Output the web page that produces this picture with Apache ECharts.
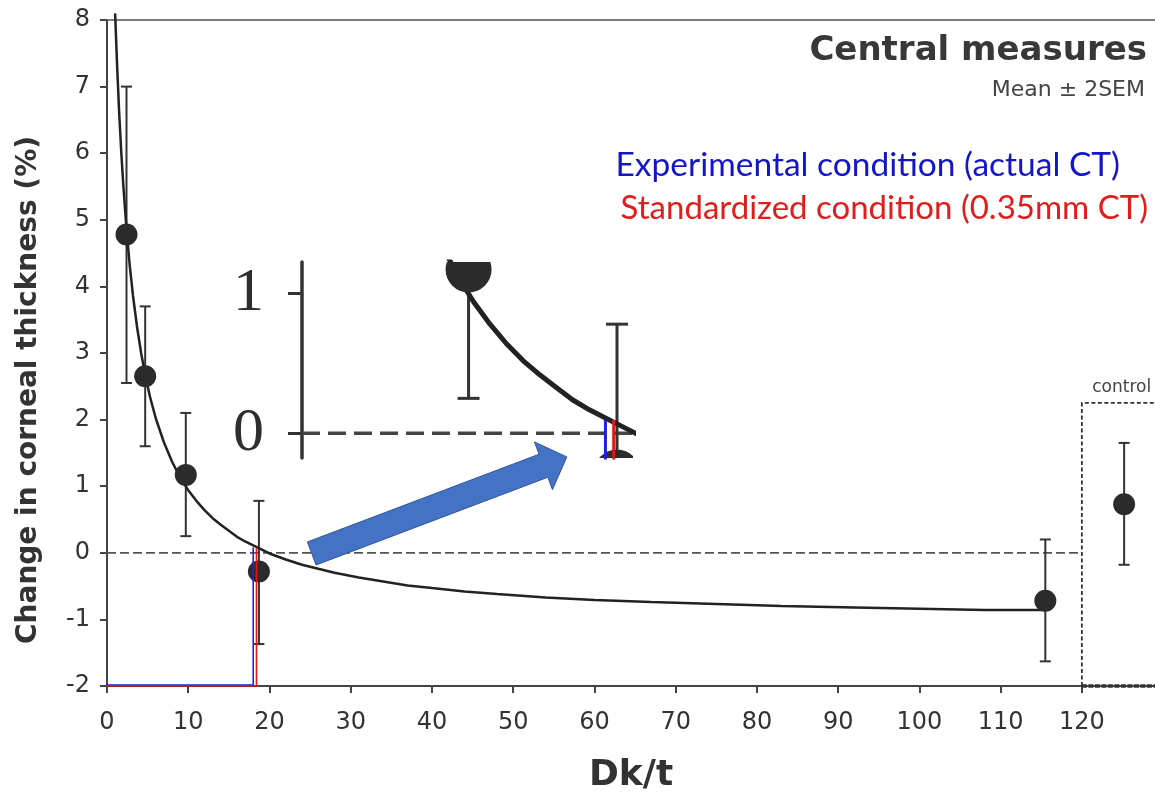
<!DOCTYPE html>
<html><head><meta charset="utf-8">
<script src="https://cdn.jsdelivr.net/npm/echarts@6/dist/echarts.min.js"></script>
<style>html,body{margin:0;padding:0;background:#fff}#chart{width:1155px;height:793px}</style>
</head><body><div id="chart"></div>
<script>
// ---------- data ----------
const xTickValues = [0, 10, 20, 30, 40, 50, 60, 70, 80, 90, 100, 110, 120];
const dkt        = [2.4, 4.7, 9.7, 18.7, 115.5];
const meanChange = [4.78, 2.65, 1.17, -0.28, -0.72];
const upper2SEM  = [7.0, 3.7, 2.1, 0.78, 0.2];
const lower2SEM  = [2.55, 1.6, 0.25, -1.37, -1.63];
const controlDkt   = [125.2];
const controlMean  = [0.73];
const controlUpper = [1.65];
const controlLower = [-0.18];
const fitDkt    = [1.0, 1.25, 1.5, 1.75, 2.0, 2.4, 2.8, 3.2, 3.7, 4.2, 4.7, 5.3, 6.0, 7.0, 8.0, 9.0, 10, 11, 12, 13, 14, 15, 16, 17, 18, 19, 20, 22, 24, 26, 28, 31, 34, 37, 40, 44, 48, 54, 60, 67, 75, 83, 92, 100, 108, 115.5];
const fitChange = [8.1, 7.3, 6.6, 6.03, 5.53, 4.86, 4.31, 3.86, 3.39, 3.0, 2.67, 2.34, 2.02, 1.66, 1.37, 1.13, 0.94, 0.78, 0.64, 0.52, 0.42, 0.33, 0.24, 0.17, 0.11, 0.05, -0.01, -0.1, -0.18, -0.24, -0.3, -0.37, -0.43, -0.49, -0.53, -0.58, -0.62, -0.67, -0.71, -0.74, -0.77, -0.8, -0.82, -0.84, -0.86, -0.86];
const actualCTDkt   = 18.0;   // blue, experimental condition
const standardCTDkt = 18.4;   // red, standardized condition
const conditionTop  = 0.08;
const controlBox = [120, 2.25, 129, -2];
const controlLabelX = 124.9;
const arrowLine = [25.2, -0.01, 56.6, 1.44];
const mainX = [0, 129], mainY = [-2, 8];
const insetX = [-0.4, 19.67], insetY = [-0.176, 1.224];
const insetYTicks = [0, 1];
const insetConditionTop = 0.095;

// ---------- helpers ----------
const ink = '#2b2b2b';
function errorBarRenderer(capHalf, width, color) {
  return function (params, api) {
    const x = api.value(0);
    const lo = api.coord([x, api.value(1)]);
    const hi = api.coord([x, api.value(2)]);
    const st = { stroke: color, lineWidth: width };
    return { type: 'group', children: [
      { type: 'line', shape: { x1: lo[0], y1: lo[1], x2: hi[0], y2: hi[1] }, style: st },
      { type: 'line', shape: { x1: lo[0] - capHalf, y1: lo[1], x2: lo[0] + capHalf, y2: lo[1] }, style: st },
      { type: 'line', shape: { x1: hi[0] - capHalf, y1: hi[1], x2: hi[0] + capHalf, y2: hi[1] }, style: st }
    ]};
  };
}
function dotRenderer(r) {
  return function (params, api) {
    const p = api.coord([api.value(0), api.value(1)]);
    return { type: 'circle', shape: { cx: p[0], cy: p[1], r: r }, style: { fill: ink } };
  };
}
const errRows = dkt.map((x, i) => [x, lower2SEM[i], upper2SEM[i]])
  .concat(controlDkt.map((x, i) => [x, controlLower[i], controlUpper[i]]));
const dotRows = dkt.map((x, i) => [x, meanChange[i]])
  .concat(controlDkt.map((x, i) => [x, controlMean[i]]));
const fitRows = fitDkt.map((x, i) => [x, fitChange[i]]);
const blueRows = [[0, -1.985], [actualCTDkt, -1.985], [actualCTDkt, conditionTop]];
const redRows = [[0, -2], [standardCTDkt, -2], [standardCTDkt, conditionTop]];

const axisFont = 'DejaVu Sans';
const chart = echarts.init(document.getElementById('chart'), null, { renderer: 'canvas' });
chart.setOption({
  animation: false,
  backgroundColor: '#fff',
  title: [
    { text: 'Central measures', right: 8, top: 34, padding: 0,
      textStyle: { fontFamily: axisFont, fontWeight: 'bold', fontSize: 34, color: '#383838' } },
    { text: 'Mean ± 2SEM', right: 10, top: 79, padding: 0,
      textStyle: { fontFamily: axisFont, fontWeight: 'normal', fontSize: 22, color: '#444' } },
    { text: 'Experimental condition (actual CT)', right: 35, top: 148, padding: 0,
      textStyle: { fontFamily: 'Lato', fontWeight: 'normal', fontSize: 33.5, color: '#1414c8' } },
    { text: 'Standardized condition (0.35mm CT)', right: 7, top: 192, padding: 0,
      textStyle: { fontFamily: 'Lato', fontWeight: 'normal', fontSize: 33, color: '#e21b1b' } }
  ],
  grid: [
    { left: 107, top: 20, right: 0, bottom: 107, outerBoundsMode: 'none', containLabel: false },
    { left: 302, top: 262, width: 331, height: 196, outerBoundsMode: 'none', containLabel: false }
  ],
  xAxis: [
    { type: 'value', gridIndex: 0, min: mainX[0], max: mainX[1],
      name: 'Dk/t', nameLocation: 'middle', nameGap: 72,
      nameTextStyle: { fontFamily: axisFont, fontWeight: 'bold', fontSize: 36, color: '#333' },
      axisLine: { show: true, onZero: false, lineStyle: { color: '#444', width: 2 } },
      axisTick: { show: true, length: 7, lineStyle: { color: '#444', width: 2 }, customValues: xTickValues },
      axisLabel: { show: true, margin: 25, fontFamily: axisFont, fontSize: 24, color: '#333', customValues: xTickValues },
      splitLine: { show: false } },
    { type: 'value', gridIndex: 0, position: 'top', min: mainX[0], max: mainX[1],
      axisLine: { show: true, onZero: false, lineStyle: { color: '#555', width: 1.5 } },
      axisTick: { show: false }, axisLabel: { show: false }, splitLine: { show: false } },
    { type: 'value', gridIndex: 1, min: insetX[0], max: insetX[1], show: false,
      axisLine: { onZero: false } }
  ],
  yAxis: [
    { type: 'value', gridIndex: 0, min: mainY[0], max: mainY[1], interval: 1,
      name: 'Change in corneal thickness (%)', nameLocation: 'middle', nameGap: 64, nameRotate: 90,
      nameTextStyle: { fontFamily: axisFont, fontWeight: 'bold', fontSize: 28, color: '#333', padding: [0, 74, 0, 0] },
      axisLine: { show: true, onZero: false, lineStyle: { color: '#444', width: 2 } },
      axisTick: { show: true, length: 7, lineStyle: { color: '#444', width: 2 } },
      axisLabel: { margin: 17, fontFamily: axisFont, fontSize: 24, color: '#333' },
      splitLine: { show: false } },
    { type: 'value', gridIndex: 1, min: insetY[0], max: insetY[1],
      axisLine: { show: true, onZero: false, lineStyle: { color: '#333', width: 3.5 } },
      axisTick: { show: true, length: 14, lineStyle: { color: '#333', width: 3 }, customValues: insetYTicks },
      axisLabel: { margin: 38, fontFamily: 'Liberation Serif', fontSize: 62, color: '#2e2e2e', customValues: insetYTicks },
      splitLine: { show: false } }
  ],
  series: [
    // ---- main plot ----
    { type: 'line', name: 'zero', xAxisIndex: 0, yAxisIndex: 0, data: [[0, 0], [120, 0]], symbol: 'none',
      lineStyle: { color: '#555', width: 1.8, type: [9, 4] }, z: 2 },
    { type: 'custom', name: 'controlBox', xAxisIndex: 0, yAxisIndex: 0, data: [controlBox], clip: false, z: 3,
      renderItem: function (params, api) {
        const p0 = api.coord([api.value(0), api.value(3)]);
        const p1 = api.coord([api.value(0), api.value(1)]);
        const p2 = api.coord([api.value(2), api.value(1)]);
        const p3 = api.coord([api.value(2), api.value(3)]);
        const lbl = api.coord([controlLabelX, api.value(1)]);
        return { type: 'group', children: [
          { type: 'polyline', shape: { points: [p0, p1, p2] }, style: { stroke: '#333', lineWidth: 1.8, lineDash: [4, 2.5], fill: null } },
          { type: 'line', shape: { x1: p0[0], y1: p0[1], x2: p3[0], y2: p3[1] }, style: { stroke: '#333', lineWidth: 3.5, lineDash: [5, 1.5] } },
          { type: 'text', x: lbl[0], y: lbl[1] - 15, style: { text: 'control', fontFamily: axisFont, fontSize: 17, fill: '#444', align: 'center', verticalAlign: 'middle' } }
        ]};
      } },
    { type: 'custom', name: 'errorBars', xAxisIndex: 0, yAxisIndex: 0, data: errRows, z: 4,
      renderItem: errorBarRenderer(5.5, 2, '#333') },
    { type: 'line', name: 'fit', xAxisIndex: 0, yAxisIndex: 0, data: fitRows, symbol: 'none', clip: false,
      smooth: false, lineStyle: { color: '#222', width: 2.5 }, z: 5 },
    { type: 'scatter', name: 'mean', xAxisIndex: 0, yAxisIndex: 0, data: dotRows, symbol: 'circle', symbolSize: 22,
      itemStyle: { color: ink, opacity: 1 }, z: 6 },
    { type: 'line', name: 'experimental', xAxisIndex: 0, yAxisIndex: 0, data: blueRows, symbol: 'none',
      lineStyle: { color: '#2020e0', width: 1.6 }, z: 7 },
    { type: 'line', name: 'standardized', xAxisIndex: 0, yAxisIndex: 0, data: redRows, symbol: 'none',
      lineStyle: { color: '#e51515', width: 1.6 }, z: 8 },
    { type: 'custom', name: 'arrow', xAxisIndex: 0, yAxisIndex: 0, data: [arrowLine], clip: false, z: 9,
      renderItem: function (params, api) {
        const a = api.coord([api.value(0), api.value(1)]);
        const b = api.coord([api.value(2), api.value(3)]);
        const dx = b[0] - a[0], dy = b[1] - a[1];
        const len = Math.sqrt(dx * dx + dy * dy);
        const ux = dx / len, uy = dy / len, nx = -uy, ny = ux;
        const sh = 12.3, hh = 25.5, hl = 25;
        const bx = b[0] - ux * hl, by = b[1] - uy * hl;
        const pts = [
          [a[0] + nx * sh, a[1] + ny * sh], [bx + nx * sh, by + ny * sh], [bx + nx * hh, by + ny * hh],
          [b[0], b[1]],
          [bx - nx * hh, by - ny * hh], [bx - nx * sh, by - ny * sh], [a[0] - nx * sh, a[1] - ny * sh]
        ];
        return { type: 'polygon', shape: { points: pts }, style: { fill: '#4472c4', stroke: '#2f5597', lineWidth: 1 } };
      } },
    // ---- magnified inset ----
    { type: 'line', name: 'insetZero', xAxisIndex: 2, yAxisIndex: 1, data: [[insetX[0], 0], [insetX[1], 0]], symbol: 'none',
      clip: true, lineStyle: { color: '#444', width: 3.5, type: [18, 8] }, z: 2 },
    { type: 'custom', name: 'insetErrorBars', xAxisIndex: 2, yAxisIndex: 1, data: errRows, clip: true, z: 3,
      renderItem: errorBarRenderer(11, 3, '#333') },
    { type: 'line', name: 'insetFit', xAxisIndex: 2, yAxisIndex: 1, data: fitRows, symbol: 'none', clip: true,
      smooth: false, lineStyle: { color: '#222', width: 5, join: 'round' }, z: 4 },
    { type: 'custom', name: 'insetDots', xAxisIndex: 2, yAxisIndex: 1, data: dotRows, clip: true, z: 5,
      renderItem: dotRenderer(23) },
    { type: 'line', name: 'insetExperimental', xAxisIndex: 2, yAxisIndex: 1, clip: true,
      data: [[actualCTDkt, insetConditionTop], [actualCTDkt, -1]], symbol: 'none',
      lineStyle: { color: '#2020e0', width: 3 }, z: 6 },
    { type: 'line', name: 'insetStandardized', xAxisIndex: 2, yAxisIndex: 1, clip: true,
      data: [[standardCTDkt + 0.1, insetConditionTop], [standardCTDkt + 0.1, -1]], symbol: 'none',
      lineStyle: { color: '#e51515', width: 3 }, z: 7 }
  ]
});
</script></body></html>
